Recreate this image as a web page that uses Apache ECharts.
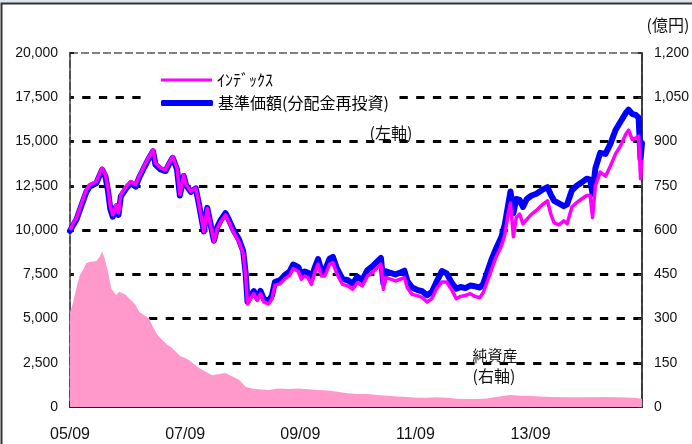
<!DOCTYPE html>
<html>
<head>
<meta charset="utf-8">
<script src="https://cdn.jsdelivr.net/npm/echarts@6/dist/echarts.min.js"></script>
<style>
html,body{margin:0;padding:0;background:#fff;}
#chart{width:692px;height:444px;}
</style>
</head>
<body>
<div id="chart"></div>
<script>
// ---- data ----
const xTickLabels = ['05/09', '07/09', '09/09', '11/09', '13/09'];
const lineDates = [
'2005-09-01','2005-09-22','2005-10-12','2005-11-13','2005-12-13','2006-01-04','2006-01-25','2006-02-16','2006-03-07','2006-03-22',
'2006-04-13','2006-04-28','2006-05-13','2006-05-28','2006-06-19','2006-07-04','2006-07-19','2006-08-22','2006-09-22','2006-10-22',
'2006-11-13','2006-12-13','2007-01-10','2007-02-10','2007-02-25','2007-03-28','2007-04-28','2007-05-19','2007-06-13','2007-07-10',
'2007-07-28','2007-08-22','2007-09-07','2007-10-07','2007-11-07','2007-11-28','2007-12-28','2008-01-19','2008-02-10','2008-03-01',
'2008-03-22','2008-04-13','2008-05-13','2008-06-04','2008-07-07','2008-08-07','2008-09-04','2008-09-19','2008-10-01','2008-10-19',
'2008-11-10','2008-12-01','2008-12-22','2009-01-13','2009-02-13','2009-03-04','2009-03-22','2009-04-25','2009-05-25','2009-06-25',
'2009-07-16','2009-08-19','2009-09-07','2009-09-28','2009-10-19','2009-11-10','2009-12-01','2009-12-22','2010-01-13','2010-02-04',
'2010-03-04','2010-03-25','2010-04-16','2010-05-07','2010-05-25','2010-06-28','2010-07-28','2010-08-28','2010-09-28','2010-11-01',
'2010-12-01','2011-01-04','2011-01-25','2011-02-10','2011-02-25','2011-03-25','2011-04-25','2011-05-28','2011-06-22','2011-07-10',
'2011-08-10','2011-09-10','2011-10-13','2011-11-13','2011-12-13','2012-01-13','2012-02-16','2012-03-16','2012-04-19','2012-05-16',
'2012-06-13','2012-07-13','2012-08-13','2012-09-13','2012-10-13','2012-11-04','2012-11-25','2012-12-25','2013-01-25','2013-02-28',
'2013-03-19','2013-04-10','2013-04-25','2013-05-13','2013-06-01','2013-06-22','2013-07-13','2013-08-07','2013-09-07','2013-10-07',
'2013-11-10','2013-12-16','2014-01-07','2014-01-28','2014-02-28','2014-03-28','2014-04-19','2014-05-19','2014-06-19','2014-07-19',
'2014-08-22','2014-09-13','2014-09-28','2014-10-16','2014-11-16','2014-12-19','2015-01-19','2015-02-22','2015-03-22','2015-04-25',
'2015-05-13','2015-06-07','2015-06-28','2015-07-16','2015-07-28','2015-08-07'
];
const indexValues = [
10000,10400,10680,11500,12270,12560,12650,12740,13200,13500,
13100,12370,11330,10860,11430,10960,12000,12460,12740,12560,
13030,13590,14060,14530,13780,13500,13400,13780,14150,13500,
12000,13100,12560,12180,12370,11420,9900,11230,10280,9340,
10100,10470,10850,10470,9810,9340,8670,7440,5830,6120,
6400,6020,6400,5930,5830,6120,6870,6970,7250,7440,
7820,7650,7220,7400,7310,6930,7600,8070,7400,7400,
8070,8160,7600,7220,6930,6840,6650,7030,6840,7400,
7600,7880,8070,6650,7310,7220,7120,7220,7310,6740,
6360,6290,6190,5930,6120,6690,7060,7060,6590,6120,
6250,6300,6400,6250,6170,6450,6970,7730,8480,9100,
9700,10900,11520,9620,10700,10900,10350,10600,10900,11100,
11400,11650,10900,10400,10290,10520,10350,11300,11550,11750,
11950,11950,10700,12500,13270,13040,13600,14300,14740,15400,
15640,15100,15200,15300,12900,13950
];
const navValues = [
9950,10300,10600,11400,12150,12450,12550,12650,13100,13400,
13000,12250,11200,10750,11300,10850,11900,12350,12650,12450,
12950,13500,13980,14450,13700,13420,13330,13700,14080,13430,
11950,13050,12530,12150,12350,11420,9920,11250,10320,9400,
10170,10560,10950,10580,9930,9470,8800,7570,5950,6260,
6550,6170,6560,6090,6000,6300,7060,7170,7460,7660,
8050,7900,7470,7660,7580,7200,7880,8360,7700,7700,
8380,8480,7910,7530,7240,7160,6970,7360,7170,7740,
7950,8240,8420,7000,7670,7580,7490,7600,7700,7120,
6750,6620,6540,6310,6500,7080,7680,7550,7000,6690,
6780,6720,6860,6820,6750,6950,7500,8300,8960,9600,
10300,11400,12180,10950,11750,11700,11300,11750,11950,12050,
12250,12420,12000,11650,11500,11350,11450,12250,12500,12680,
12900,12850,12050,13500,14360,14300,14850,15650,16100,16600,
16800,16550,16500,16350,14000,14900
];
const assetDates = [
'2005-09-01','2005-09-10','2005-09-21','2005-10-11','2005-11-02','2005-11-22','2005-12-13','2006-01-13','2006-02-16','2006-03-07',
'2006-03-22','2006-04-07','2006-04-28','2006-05-19','2006-06-19','2006-07-10','2006-08-01','2006-08-22','2006-09-10','2006-10-01',
'2006-10-22','2006-11-13','2006-12-13','2007-01-16','2007-02-07','2007-03-07','2007-04-07','2007-05-10','2007-06-10','2007-07-10',
'2007-08-01','2007-09-01','2007-09-28','2007-11-28','2008-02-19','2008-04-01','2008-05-13','2008-06-25','2008-08-07','2008-09-19',
'2008-10-28','2008-12-10','2009-02-13','2009-04-13','2009-06-16','2009-08-19','2009-10-19','2009-12-22','2010-02-25','2010-04-25',
'2010-06-28','2010-08-28','2010-11-01','2011-01-04','2011-03-04','2011-05-07','2011-07-10','2011-09-10','2011-11-13','2012-01-16',
'2012-03-16','2012-05-19','2012-07-19','2012-09-22','2012-11-25','2013-01-25','2013-03-28','2013-04-28','2013-06-19','2013-08-19',
'2013-10-22','2014-01-19','2014-04-28','2014-08-13','2014-11-28','2015-03-10','2015-06-22','2015-08-07'
];
const assetValues = [
320,335,357,403,447,464,488,492,495,510,
527,505,459,402,380,391,385,380,368,357,
346,323,312,301,274,245,228,211,200,183,
172,166,158,132,108,112,115,103,92,69,
63,60,58,63,61,63,60,58,56,52,
47,44,44,41,38,36,34,31,31,33,
31,28,27,27,29,34,39,41,38,38,
36,34,33,33,34,33,31,28
];

// ---- helpers ----
function toMonth(d) {
  const p = d.split('-').map(Number);
  return (p[0] - 2005) * 12 + (p[1] - 9) + (p[2] - 1) / 30;
}
const pair = (dates, vals) => dates.map((d, i) => [toMonth(d), vals[i]]);
const lastX = toMonth(lineDates[lineDates.length - 1]);

const NUM_FONT = '"Liberation Sans", Arial, sans-serif';
const CJK_FONT = '"Noto Sans CJK JP", sans-serif';
const commas = v => String(v).replace(/\B(?=(\d{3})+(?!\d))/g, ',');

const chart = echarts.init(document.getElementById('chart'), null, {renderer: 'canvas'});
chart.setOption({
  animation: false,
  backgroundColor: '#ffffff',
  grid: {
    left: 70, right: 45, top: 53, bottom: 37,
    show: true, backgroundColor: 'transparent',
    borderColor: '#808080', borderWidth: 2, borderType: [8, 3]
  },
  legend: [
    {
      data: [{name: 'ｲﾝﾃﾞｯｸｽ', icon: 'rect'}],
      left: 161, top: 72, padding: 0,
      itemWidth: 51, itemHeight: 3,
      selectedMode: false,
      itemStyle: {borderWidth: 0},
      textStyle: {fontSize: 16, fontFamily: CJK_FONT, color: '#000', lineHeight: 16}
    },
    {
      data: [{name: '基準価額(分配金再投資)', icon: 'roundRect'}],
      left: 148, top: 91, padding: [4, 10, 4, 13],
      backgroundColor: '#ffffff',
      itemWidth: 52, itemHeight: 6,
      selectedMode: false,
      itemStyle: {borderWidth: 0},
      textStyle: {fontSize: 16, fontFamily: CJK_FONT, color: '#000', lineHeight: 16}
    }
  ],
  xAxis: [
    {
      type: 'value', min: 0, max: lastX, interval: 24,
      axisLine: {show: true, onZero: false, lineStyle: {color: '#222', width: 2}},
      axisTick: {show: true, inside: true, length: 6, lineStyle: {color: '#222', width: 1.5}},
      axisLabel: {
        margin: 20, fontSize: 16, fontFamily: NUM_FONT, color: '#111',
        showMaxLabel: false,
        formatter: v => (Math.abs(v % 24) < 1e-6 ? (xTickLabels[Math.round(v / 24)] || '') : '')
      },
      splitLine: {show: false}
    }
  ],
  yAxis: [
    {
      type: 'value', min: 0, max: 20000, interval: 2500,
      axisLine: {show: true, onZero: false, lineStyle: {color: '#444', width: 1.5}},
      axisTick: {show: true, inside: true, length: 4, lineStyle: {color: '#222', width: 2}},
      axisLabel: {margin: 12, fontSize: 14, fontFamily: NUM_FONT, color: '#111', formatter: commas},
      splitLine: {
        show: true, showMaxLine: false, showMinLine: false,
        lineStyle: {color: '#000', width: 3, type: [8.3, 8.4], dashOffset: 4.5}
      }
    },
    {
      type: 'value', min: 0, max: 1200, interval: 150, position: 'right',
      axisLine: {show: true, onZero: false, lineStyle: {color: '#333', width: 1.8}},
      axisTick: {show: true, inside: true, length: 4, lineStyle: {color: '#333', width: 2}},
      axisLabel: {margin: 12, fontSize: 14, fontFamily: NUM_FONT, color: '#111', formatter: commas},
      splitLine: {show: false}
    }
  ],
  series: [
    {
      name: '純資産', type: 'line', yAxisIndex: 1, z: 1,
      data: pair(assetDates, assetValues),
      symbol: 'none', color: '#ff99cc',
      lineStyle: {width: 0},
      areaStyle: {color: '#ff99cc', opacity: 1}
    },
    {
      name: '基準価額(分配金再投資)', type: 'line', z: 2,
      data: pair(lineDates, navValues),
      symbol: 'none', color: '#0000ff',
      lineStyle: {color: '#0000ff', width: 6, join: 'round', cap: 'round'}
    },
    {
      name: 'ｲﾝﾃﾞｯｸｽ', type: 'line', z: 3,
      data: pair(lineDates, indexValues),
      symbol: 'none', color: '#ff00ff',
      lineStyle: {color: '#ff00ff', width: 3.5, join: 'round'}
    }
  ],
  graphic: [
    {type: 'rect', left: 0, top: 0, shape: {width: 692, height: 3}, style: {fill: '#dbe5ef'}, silent: true, z: 100},
    {type: 'rect', shape: {x: 1.5, y: 3.5, width: 720, height: 480}, style: {fill: 'none', stroke: '#333', lineWidth: 2}, silent: true, z: 100},
    {type: 'text', x: 668, y: 25, style: {text: '(億円)', fill: '#111', font: '16px "Noto Sans CJK JP", sans-serif', textAlign: 'center', textVerticalAlign: 'middle'}, z: 100},
    {type: 'text', x: 391, y: 133, style: {text: '(左軸)', fill: '#111', font: '16px "Noto Sans CJK JP", sans-serif', textAlign: 'center', textVerticalAlign: 'middle'}, z: 100},
    {type: 'text', x: 495, y: 355, style: {text: '純資産', fill: '#111', font: '15px "Noto Sans CJK JP", sans-serif', textAlign: 'center', textVerticalAlign: 'middle'}, z: 100},
    {type: 'text', x: 494, y: 376, style: {text: '(右軸)', fill: '#111', font: '16px "Noto Sans CJK JP", sans-serif', textAlign: 'center', textVerticalAlign: 'middle'}, z: 100}
  ]
});
</script>
</body>
</html>
